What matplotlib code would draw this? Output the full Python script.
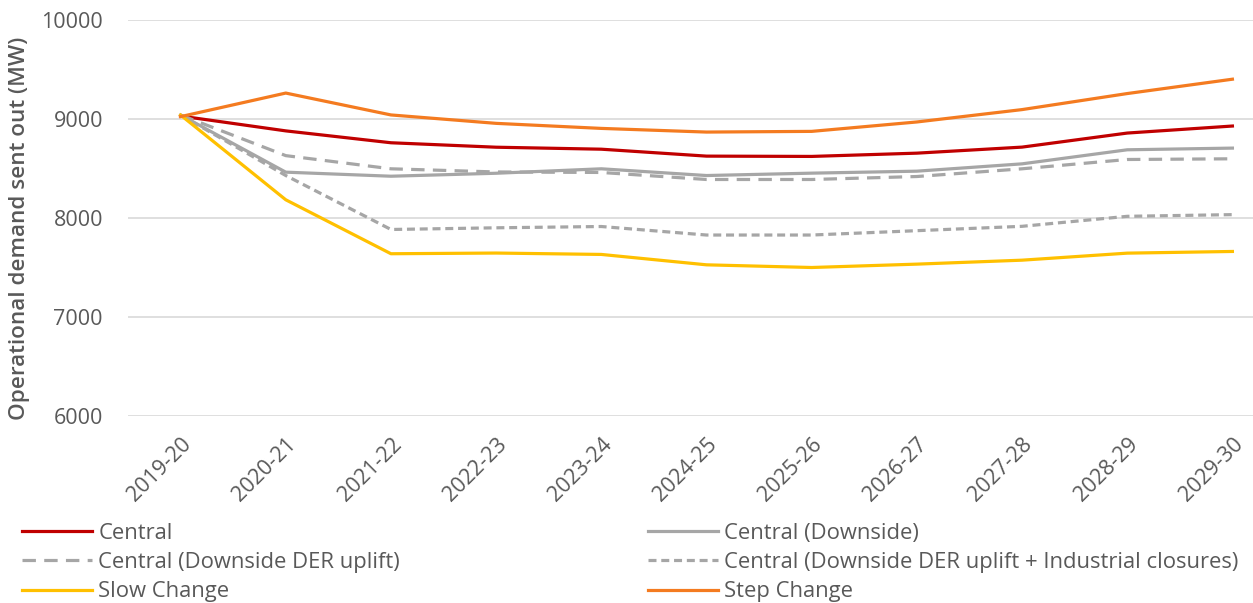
import matplotlib.pyplot as plt

plt.rcParams['font.family'] = ['Open Sans', 'DejaVu Sans']

# Financial years and demand values (MW)
years = ['2019-20', '2020-21', '2021-22', '2022-23', '2023-24', '2024-25',
         '2025-26', '2026-27', '2027-28', '2028-29', '2029-30']
central = [9030, 8880, 8760, 8715, 8695, 8625, 8622, 8655, 8716, 8858, 8929]
central_downside = [9040, 8463, 8422, 8452, 8497, 8429, 8453, 8473, 8547, 8689, 8706]
der_uplift = [9040, 8630, 8497, 8465, 8460, 8389, 8389, 8419, 8497, 8591, 8598]
industrial = [9040, 8429, 7884, 7901, 7914, 7828, 7828, 7872, 7916, 8017, 8034]
slow_change = [9040, 8184, 7639, 7646, 7632, 7527, 7500, 7534, 7574, 7645, 7662]
step_change = [9024, 9262, 9041, 8956, 8905, 8868, 8875, 8970, 9095, 9257, 9402]

fig = plt.figure(figsize=(12.53, 6.03), dpi=100)
ax = fig.add_axes([128 / 1253, 1 - 416 / 603, 1157 / 1253, 396 / 603])

lw = 2.3
x = range(len(years))
h_central, = ax.plot(x, central, color='#C00000', lw=lw, label='Central')
h_down, = ax.plot(x, central_downside, color='#A6A6A6', lw=lw, label='Central (Downside)')
h_der, = ax.plot(x, der_uplift, color='#A6A6A6', lw=lw, dashes=(4.2, 2.6),
                 label='Central (Downside DER uplift)')
h_ind, = ax.plot(x, industrial, color='#A6A6A6', lw=lw, dashes=(2.5, 1.5),
                 label='Central (Downside DER uplift + Industrial closures)')
h_slow, = ax.plot(x, slow_change, color='#FFC000', lw=lw, label='Slow Change')
h_step, = ax.plot(x, step_change, color='#F47B20', lw=lw, label='Step Change')

ax.set_xlim(-0.5, 10.5)
ax.set_ylim(6000, 10000)
ax.set_yticks([6000, 7000, 8000, 9000, 10000])
ax.set_xticks(list(x))
ax.set_xticklabels(years, rotation=45, ha='right', rotation_mode='anchor')
ax.grid(axis='y', color='#D9D9D9', lw=1.2)
ax.set_axisbelow(True)
for s in ax.spines.values():
    s.set_visible(False)
ax.tick_params(axis='both', length=0, colors='#595959', labelsize=15.5)
ax.tick_params(axis='x', pad=13)
ax.tick_params(axis='y', pad=18)

fig.text(20 / 1253, 1 - 228 / 603, 'Operational demand sent out (MW)', rotation=90,
         ha='center', va='center', fontsize=16.2, fontweight='semibold', color='#595959')

# legend fills column-wise, so order handles to match the row-wise reference
handles = [h_central, h_der, h_slow, h_down, h_ind, h_step]
fig.legend(handles=handles, labels=[h.get_label() for h in handles], ncol=2,
           loc='upper left', bbox_to_anchor=(22 / 1253, 1 - 523 / 603),
           frameon=False, fontsize=15.8, handlelength=3.2, handletextpad=0.27,
           columnspacing=11.3, labelspacing=0.37, borderaxespad=0, borderpad=0,
           labelcolor='#595959')

fig.savefig('out.png', dpi=100)
